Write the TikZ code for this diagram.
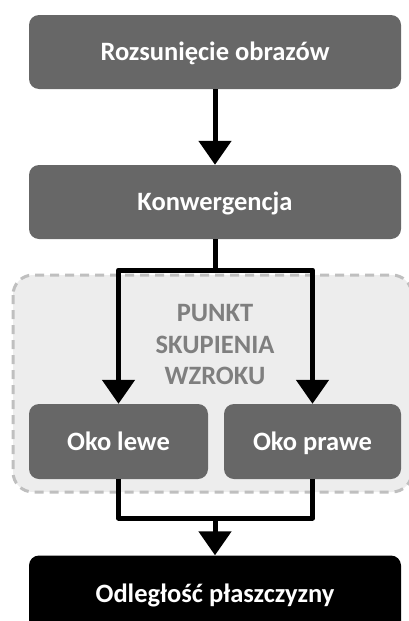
\documentclass[tikz,border=0pt]{standalone}
\usepackage{fontspec}
\setmainfont{Carlito}
\usetikzlibrary{arrows.meta}
\definecolor{boxgray}{RGB}{103,103,103}
\definecolor{zonefill}{RGB}{237,237,237}
\definecolor{zoneline}{RGB}{191,191,191}
\definecolor{zonetext}{RGB}{127,127,127}
\begin{document}
\begin{tikzpicture}[x=1pt,y=-1pt,
  stepbox/.style={draw=none,fill=boxgray,rounded corners=10pt,text=white,
    font=\fontsize{26.5}{32}\selectfont\bfseries,inner sep=0pt,anchor=center,
    text height=22pt,text depth=5pt},
  flow/.style={line width=5pt,line join=round,draw=black},
  tip/.style={-{Triangle[width=32pt,length=24pt]}}]
\useasboundingbox (0,0) rectangle (409,621);
% shaded zone around the two eye boxes
\draw[fill=zonefill,draw=zoneline,line width=3pt,dash pattern=on 9pt off 6pt,rounded corners=20pt]
  (13,275) rectangle (412,492);
\node[text=zonetext,font=\fontsize{26.5}{31.5}\selectfont\bfseries,align=center] (zone) at (215,345)
  {PUNKT\\SKUPIENIA\\WZROKU};
% boxes
\node[stepbox,minimum width=372pt,minimum height=74pt] (top) at (215,52) {Rozsunięcie obrazów};
\node[stepbox,minimum width=372pt,minimum height=74pt] (konw) at (215,202) {Konwergencja};
\node[stepbox,minimum width=179pt,minimum height=75pt] (left) at (118.5,441.5) {Oko lewe};
\node[stepbox,minimum width=177pt,minimum height=75pt] (right) at (312.5,441.5) {Oko prawe};
\node[stepbox,fill=black,minimum width=372pt,minimum height=76pt] (bot) at (215,593.5) {Odległość płaszczyzny};
% connectors
\coordinate (split) at (215,270);
\coordinate (join) at (215,518);
\draw[flow,tip] (top.south) -- (konw.north);
\draw[flow] (konw.south) -- (split);
\draw[flow,tip] (split) -| (left.north);
\draw[flow,tip] (split) -| (right.north);
\draw[flow] (left.south) |- (join) -| (right.south);
\draw[flow,tip] (join) -- (bot.north);
\end{tikzpicture}
\end{document}
